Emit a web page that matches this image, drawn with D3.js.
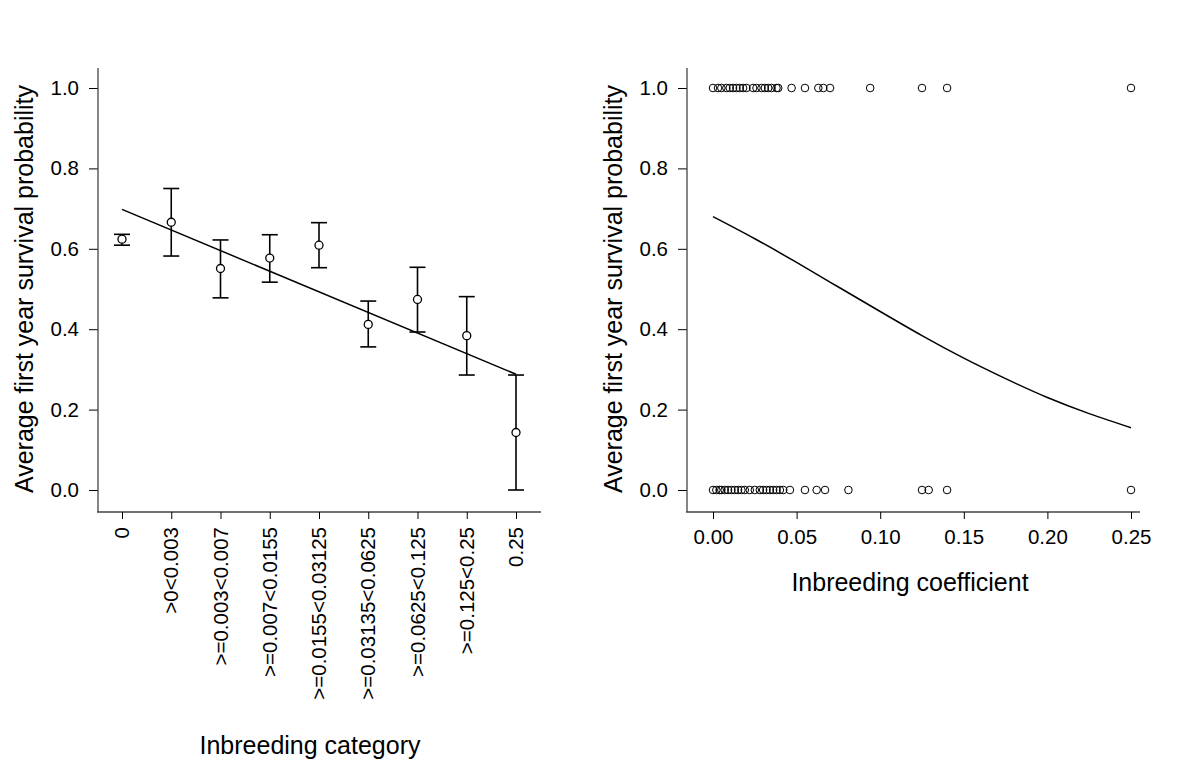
<!DOCTYPE html>
<html><head><meta charset="utf-8">
<script src="https://cdn.jsdelivr.net/npm/d3@7"></script>
<style>body{margin:0;background:#fff}text{font-family:"Liberation Sans",Arial,sans-serif;fill:#000}</style>
</head><body><svg id="c" width="1200" height="762"></svg>
<script>
// Left panel data
const categories = ["0", ">0<0.003", ">=0.003<0.007", ">=0.007<0.0155", ">=0.0155<0.03125", ">=0.03135<0.0625", ">=0.0625<0.125", ">=0.125<0.25", "0.25"];
const meanSurvival = [0.624, 0.666, 0.551, 0.577, 0.609, 0.412, 0.474, 0.384, 0.143];
const upperCI = [0.636, 0.750, 0.622, 0.635, 0.665, 0.470, 0.554, 0.481, 0.286];
const lowerCI = [0.609, 0.582, 0.478, 0.517, 0.553, 0.356, 0.393, 0.286, 0.000];
const trendStart = 0.698, trendEnd = 0.288;
const yTicks = [0.0, 0.2, 0.4, 0.6, 0.8, 1.0];
// Right panel data
const survivedF = [0.000, 0.003, 0.005, 0.008, 0.010, 0.012, 0.014, 0.016, 0.018, 0.020, 0.024, 0.026, 0.029, 0.031, 0.033, 0.035, 0.038, 0.039, 0.047, 0.055, 0.063, 0.066, 0.070, 0.094, 0.125, 0.140, 0.250];
const diedF = [0.000, 0.002, 0.004, 0.005, 0.007, 0.009, 0.011, 0.013, 0.015, 0.017, 0.019, 0.022, 0.025, 0.028, 0.030, 0.032, 0.034, 0.036, 0.038, 0.040, 0.042, 0.046, 0.055, 0.062, 0.067, 0.081, 0.125, 0.129, 0.140, 0.250];
const curveX = [0, 0.025, 0.05, 0.075, 0.10, 0.125, 0.15, 0.175, 0.20, 0.225, 0.25];
const curveY = [0.680, 0.625, 0.566, 0.505, 0.444, 0.384, 0.328, 0.277, 0.230, 0.190, 0.155];
const xTicksRight = [0.00, 0.05, 0.10, 0.15, 0.20, 0.25];

const TICK_FS = 20.5, TITLE_FS = 25;
const svg = d3.select("#c");
const y = d3.scaleLinear().domain([0, 1]).range([490, 88]);
const fmt1 = d3.format(".1f");

function yAxis(g, xPos, titleX) {
  const ax = g.append("g").attr("transform", `translate(${xPos},0)`)
    .call(d3.axisLeft(y).tickValues(yTicks).tickFormat(fmt1).tickSize(9).tickPadding(10));
  ax.select(".domain").remove();
  ax.selectAll("line").attr("stroke", "#000").attr("stroke-width", 1);
  ax.selectAll("text").attr("font-size", TICK_FS).attr("font-family", "Liberation Sans, Arial");
  g.append("line").attr("x1", xPos).attr("x2", xPos).attr("y1", 68).attr("y2", 512).attr("stroke", "#444").attr("stroke-width", 1.3);
  g.append("text").attr("transform", `translate(${titleX},${289}) rotate(-90)`).attr("text-anchor", "middle")
    .attr("font-size", TITLE_FS).text("Average first year survival probability");
}

// LEFT
const L = svg.append("g");
const xb = d3.scalePoint().domain(categories).range([122, 516]);
yAxis(L, 98, 33);
L.append("line").attr("x1", 97).attr("x2", 541).attr("y1", 512).attr("y2", 512).attr("stroke", "#444").attr("stroke-width", 1.3);
const xa = L.append("g").attr("transform", "translate(0,512)")
  .call(d3.axisBottom(xb).tickSize(7).tickFormat(""));
xa.select(".domain").remove();
xa.selectAll("line").attr("stroke", "#000");
L.selectAll(".catlab").data(categories).enter().append("text")
  .attr("transform", d => `translate(${xb(d)},${527}) rotate(-90)`)
  .attr("text-anchor", "end").attr("dy", "0.35em").attr("font-size", TICK_FS).text(d => d);
L.append("text").attr("x", 310).attr("y", 754).attr("text-anchor", "middle").attr("font-size", TITLE_FS).text("Inbreeding category");
// trend line
L.append("line").attr("x1", xb(categories[0])).attr("x2", xb(categories[8]))
  .attr("y1", y(trendStart)).attr("y2", y(trendEnd)).attr("stroke", "#000").attr("stroke-width", 1.5);
// error bars
const eb = L.selectAll(".eb").data(categories).enter().append("g");
eb.append("line").attr("x1", d => xb(d)).attr("x2", d => xb(d))
  .attr("y1", (d, i) => y(upperCI[i])).attr("y2", (d, i) => y(lowerCI[i])).attr("stroke", "#000").attr("stroke-width", 1.6);
eb.append("line").attr("x1", d => xb(d) - 8).attr("x2", d => xb(d) + 8)
  .attr("y1", (d, i) => y(upperCI[i])).attr("y2", (d, i) => y(upperCI[i])).attr("stroke", "#000").attr("stroke-width", 1.6);
eb.append("line").attr("x1", d => xb(d) - 8).attr("x2", d => xb(d) + 8)
  .attr("y1", (d, i) => y(lowerCI[i])).attr("y2", (d, i) => y(lowerCI[i])).attr("stroke", "#000").attr("stroke-width", 1.6);
eb.append("circle").attr("cx", d => xb(d)).attr("cy", (d, i) => y(meanSurvival[i])).attr("r", 4)
  .attr("fill", "#fff").attr("stroke", "#000").attr("stroke-width", 1.3);

// RIGHT
const R = svg.append("g");
const xr = d3.scaleLinear().domain([0, 0.25]).range([713, 1131]);
yAxis(R, 687, 622);
R.append("line").attr("x1", 686).attr("x2", 1140).attr("y1", 512).attr("y2", 512).attr("stroke", "#444").attr("stroke-width", 1.3);
const xra = R.append("g").attr("transform", "translate(0,512)")
  .call(d3.axisBottom(xr).tickValues(xTicksRight).tickFormat(d3.format(".2f")).tickSize(7).tickPadding(10));
xra.select(".domain").remove();
xra.selectAll("line").attr("stroke", "#000");
xra.selectAll("text").attr("font-size", TICK_FS).attr("font-family", "Liberation Sans, Arial");
R.append("text").attr("x", 910).attr("y", 591).attr("text-anchor", "middle").attr("font-size", TITLE_FS).text("Inbreeding coefficient");
R.append("path").datum(curveX.map((v, i) => [v, curveY[i]]))
  .attr("d", d3.line().x(d => xr(d[0])).y(d => y(d[1])).curve(d3.curveNatural))
  .attr("fill", "none").attr("stroke", "#000").attr("stroke-width", 1.5);
R.selectAll(".s1").data(survivedF).enter().append("circle")
  .attr("cx", d => xr(d)).attr("cy", y(1)).attr("r", 3.8).attr("fill", "none").attr("stroke", "#000").attr("stroke-width", 1);
R.selectAll(".s0").data(diedF).enter().append("circle")
  .attr("cx", d => xr(d)).attr("cy", y(0)).attr("r", 3.8).attr("fill", "none").attr("stroke", "#000").attr("stroke-width", 1);
</script></body></html>
